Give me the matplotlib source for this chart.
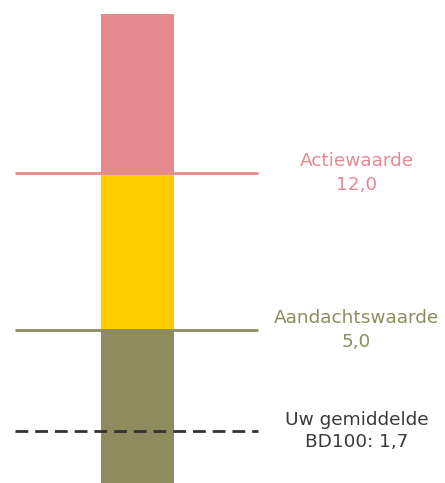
import numpy as np
import matplotlib
matplotlib.use("Agg")
import matplotlib.pyplot as plt

# Data
segment_bounds = [0.0, 5.0, 12.0, 19.0]
segment_colors = ["#8E8C5E", "#FFCC00", "#E48A8F"]
threshold_values = [12.0, 5.0]
threshold_names = ["Actiewaarde", "Aandachtswaarde"]
threshold_colors = ["#E48A8F", "#8E8C5E"]
user_value = 1.7
user_label = "Uw gemiddelde\nBD100: 1,7"

def fmt(v):
    return f"{v:.1f}".replace(".", ",")

# piecewise scale: each band gets similar visual height
src = [0.0, 5.0, 12.0, 19.0, 26.0]
dst = [0.0, 153.0, 310.0, 469.0, 628.0]
def fwd(y):
    return np.interp(y, src, dst)
def inv(y):
    return np.interp(y, dst, src)

fig = plt.figure(figsize=(4.45, 4.83), dpi=100)
ax = fig.add_axes([0, 0, 1, 1])
ax.set_yscale("function", functions=(fwd, inv))

for lo, hi, c in zip(segment_bounds[:-1], segment_bounds[1:], segment_colors):
    ax.bar(0, hi - lo, bottom=lo, width=1.0, color=c, zorder=1)

for v, name, c in zip(threshold_values, threshold_names, threshold_colors):
    ax.hlines(v, -1.68, 1.65, color=c, lw=2, zorder=2)
    ax.text(3.0, v, f"{name}\n{fmt(v)}", color=c, ha="center", va="center",
            fontsize=13.3, linespacing=1.42, family="DejaVu Sans")

ax.hlines(user_value, -1.68, 1.65, color="#333333", lw=2, linestyles=(0, (4.6, 2.5)), zorder=3)
ax.text(3.0, user_value, user_label, color="#3a3a3a", ha="center", va="center",
        fontsize=13.3, linespacing=1.35, family="DejaVu Sans")

ax.set_xlim(-1.884, 4.212)
ax.set_ylim(0, 19.62)
ax.axis("off")
fig.savefig("out.png", dpi=100)
